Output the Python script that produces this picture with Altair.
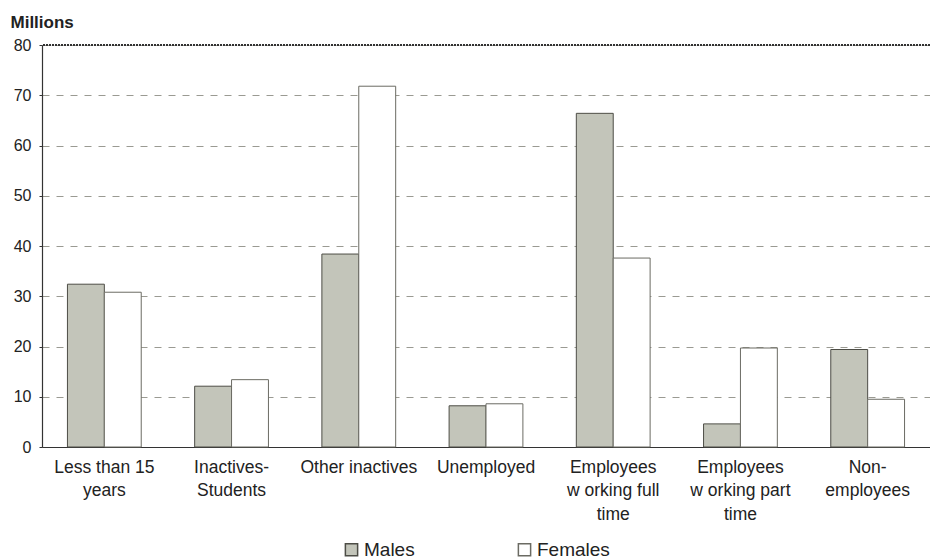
import altair as alt
import pandas as pd

categories = [
    "Less than 15|years",
    "Inactives-|Students",
    "Other inactives",
    "Unemployed",
    "Employees|w orking full|time",
    "Employees|w orking part|time",
    "Non-|employees",
]
males = [32.4, 12.1, 38.4, 8.2, 66.4, 4.6, 19.4]
females = [30.8, 13.4, 71.8, 8.6, 37.6, 19.7, 9.5]
series = ["Males", "Females"]
y_ticks = [0, 10, 20, 30, 40, 50, 60, 70, 80]

rows = []
for c, m, f in zip(categories, males, females):
    rows.append({"cat": c, "sex": "Males", "value": m})
    rows.append({"cat": c, "sex": "Females", "value": f})
df = pd.DataFrame(rows)

FONT = "Liberation Sans"

color_scale = alt.Scale(domain=series, range=["#c3c5ba", "#ffffff"])
stroke_scale = alt.Scale(domain=series, range=["#4d4d46", "#6b6b63"])

bars = alt.Chart(df).mark_bar(strokeWidth=1).encode(
    x=alt.X(
        "cat:N",
        sort=categories,
        scale=alt.Scale(paddingInner=0.42, paddingOuter=0.2),
        axis=alt.Axis(
            title=None,
            labelAngle=0,
            labelExpr="split(datum.label, '|')",
            labelFont=FONT,
            labelFontSize=17.5,
            labelColor="#222222",
            labelLineHeight=23.5,
            labelPadding=11,
            ticks=False,
            domainColor="#333333",
            domainWidth=1.2,
            labelBaseline="top",
        ),
    ),
    xOffset=alt.XOffset("sex:N", sort=series),
    y=alt.Y(
        "value:Q",
        scale=alt.Scale(domain=[0, 80], nice=False),
        axis=alt.Axis(
            title="Millions",
            titleAngle=0,
            titleAlign="left",
            titleBaseline="middle",
            titleX=-32,
            titleY=-23,
            titleFont=FONT,
            titleFontSize=17,
            titleFontWeight="bold",
            titleColor="#222222",
            values=y_ticks,
            labelFont=FONT,
            labelFontSize=16,
            labelColor="#222222",
            labelPadding=8,
            tickSize=3,
            tickColor="#333333",
            domainColor="#333333",
            domainWidth=1.2,
            grid=True,
            gridColor="#9a9a92",
            gridDash=[7, 7],
            gridWidth=1,
        ),
    ),
    color=alt.Color(
        "sex:N",
        scale=color_scale,
        sort=series,
        legend=alt.Legend(
            title=None,
            orient="none",
            direction="horizontal",
            legendX=300,
            legendY=495,
            symbolType="square",
            symbolSize=150,
            labelFont=FONT,
            labelFontSize=19,
            labelColor="#222222",
            labelOffset=3,
            columnPadding=100,
        ),
    ),
    stroke=alt.Stroke("sex:N", scale=stroke_scale, sort=series),
)

top_line = alt.Chart(df).mark_rule(color="#333333", strokeDash=[2, 1], strokeWidth=1.2).encode(
    y=alt.datum(80)
)

chart = alt.layer(bars, top_line).properties(
    width=888,
    height=402,
    padding={"left": 34, "top": 37, "right": 0, "bottom": 112},
    autosize=alt.AutoSizeParams(type="none"),
).configure_view(stroke=None).configure(background="white")

chart.save("out.html", embed_options={"renderer": "svg", "actions": False})
